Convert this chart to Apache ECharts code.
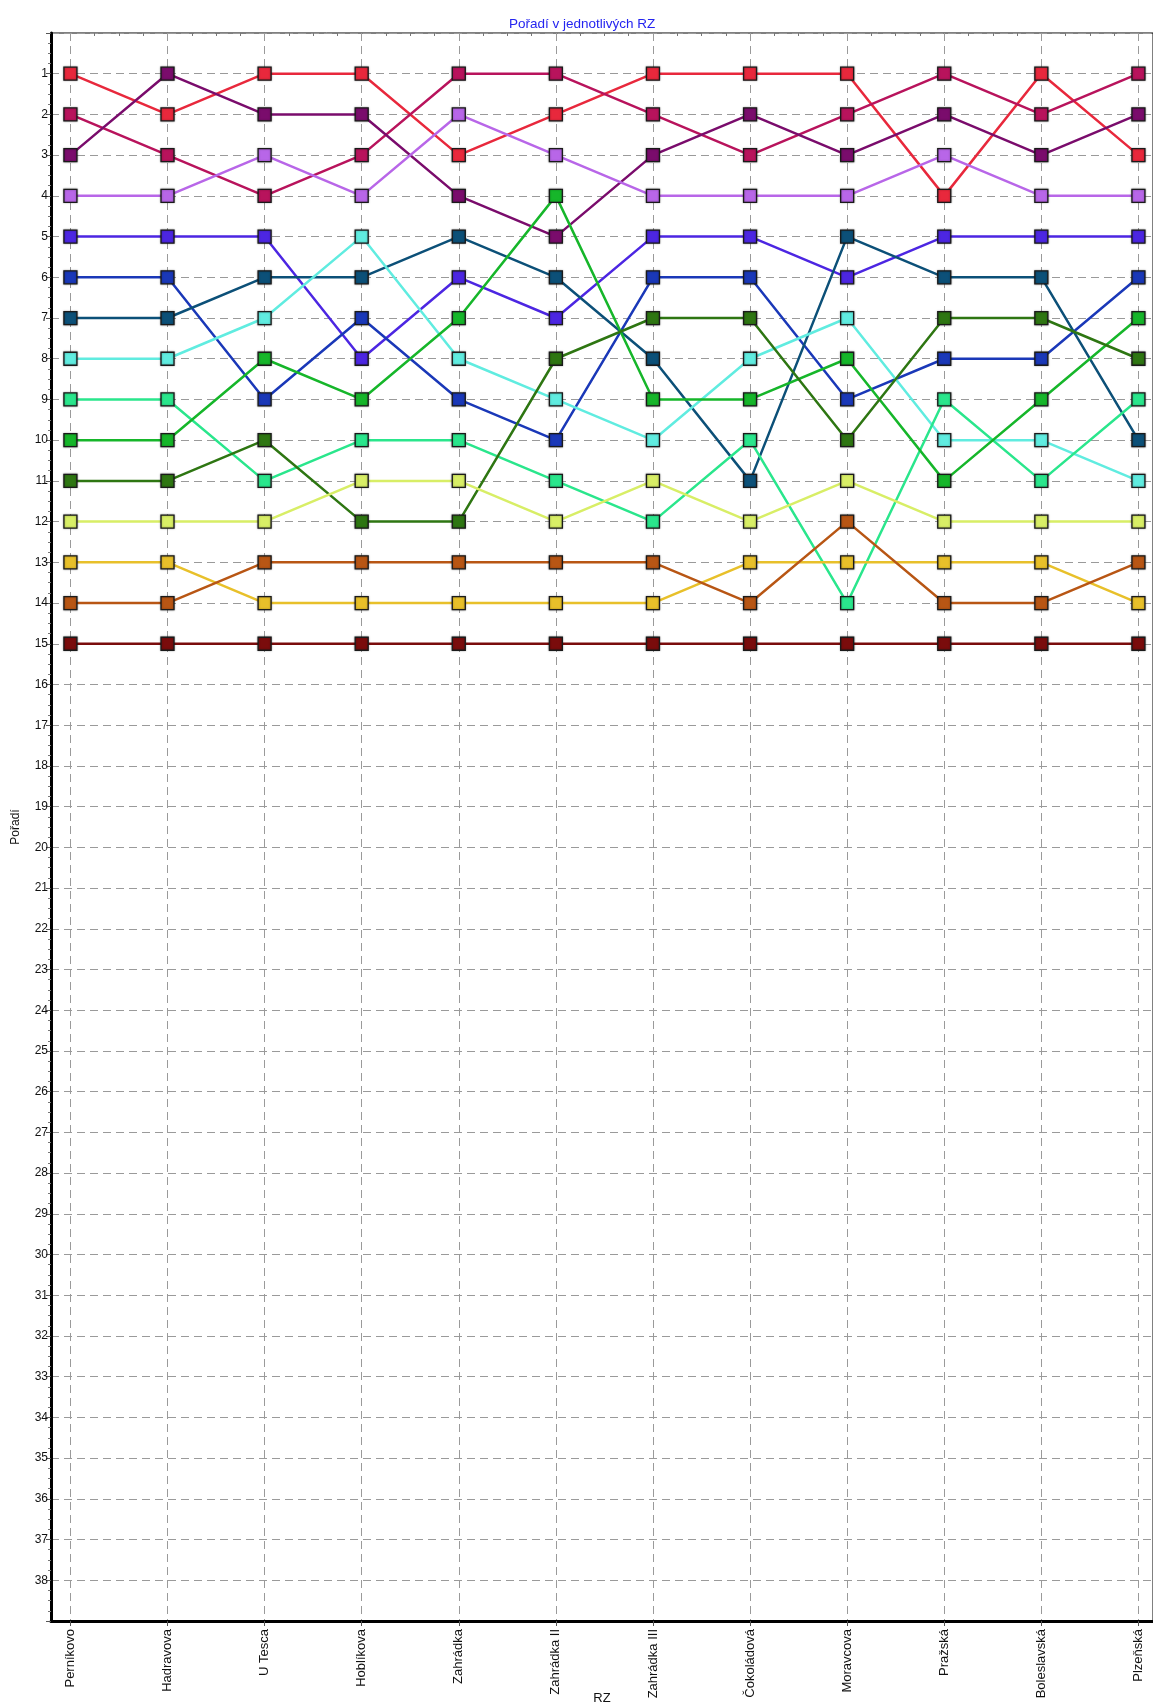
<!DOCTYPE html>
<html>
<head>
<meta charset="utf-8">
<title>Pořadí v jednotlivých RZ</title>
<script src="https://cdn.jsdelivr.net/npm/echarts@6/dist/echarts.min.js"></script>
<style>
    html, body { margin: 0; padding: 0; background: #fff; }
    #chart { width: 1153px; height: 1704px; }
</style>
</head>
<body>
<div id="chart"></div>
<script>
    'use strict';

    // stages (x axis)
    var stages = ['Perníkovo', 'Hadravova', 'U Tesca', 'Hoblíkova', 'Zahrádka', 'Zahrádka II',
        'Zahrádka III', 'Čokoládová', 'Moravcova', 'Pražská', 'Boleslavská', 'Plzeňská'];

    // ranking of each crew per stage
    var rankRed       = [1, 2, 1, 1, 3, 2, 1, 1, 1, 4, 1, 3];
    var rankCrimson   = [2, 3, 4, 3, 1, 1, 2, 3, 2, 1, 2, 1];
    var rankPurple    = [3, 1, 2, 2, 4, 5, 3, 2, 3, 2, 3, 2];
    var rankLavender  = [4, 4, 3, 4, 2, 3, 4, 4, 4, 3, 4, 4];
    var rankViolet    = [5, 5, 5, 8, 6, 7, 5, 5, 6, 5, 5, 5];
    var rankBlue      = [6, 6, 9, 7, 9, 10, 6, 6, 9, 8, 8, 6];
    var rankTeal      = [7, 7, 6, 6, 5, 6, 8, 11, 5, 6, 6, 10];
    var rankCyan      = [8, 8, 7, 5, 8, 9, 10, 8, 7, 10, 10, 11];
    var rankAqua      = [9, 9, 11, 10, 10, 11, 12, 10, 14, 9, 11, 9];
    var rankGreen     = [10, 10, 8, 9, 7, 4, 9, 9, 8, 11, 9, 7];
    var rankDarkGreen = [11, 11, 10, 12, 12, 8, 7, 7, 10, 7, 7, 8];
    var rankLime      = [12, 12, 12, 11, 11, 12, 11, 12, 11, 12, 12, 12];
    var rankGold      = [13, 13, 14, 14, 14, 14, 14, 13, 13, 13, 13, 14];
    var rankOrange    = [14, 14, 13, 13, 13, 13, 13, 14, 12, 14, 14, 13];
    var rankDarkRed   = [15, 15, 15, 15, 15, 15, 15, 15, 15, 15, 15, 15];

    var crews = [
        { color: '#e8283c', ranks: rankRed },
        { color: '#b8135c', ranks: rankCrimson },
        { color: '#7a0c6c', ranks: rankPurple },
        { color: '#b866e8', ranks: rankLavender },
        { color: '#4c26e2', ranks: rankViolet },
        { color: '#1a38b8', ranks: rankBlue },
        { color: '#0c5078', ranks: rankTeal },
        { color: '#60ece0', ranks: rankCyan },
        { color: '#2ae68c', ranks: rankAqua },
        { color: '#16b62a', ranks: rankGreen },
        { color: '#2e7612', ranks: rankDarkGreen },
        { color: '#d8ee66', ranks: rankLime },
        { color: '#e8c02a', ranks: rankGold },
        { color: '#b85614', ranks: rankOrange },
        { color: '#7a0c0c', ranks: rankDarkRed }
    ];

    var FONT = '"Liberation Sans", Arial, sans-serif';
    var gridLine = { show: true, lineStyle: { color: '#9a9a9a', width: 1, type: [8, 5] } };

    var stageTicks = stages.map(function(s, i) { return i; });
    var minorTicks = [];
    for (var i = 0; i < stages.length - 1; i++) {
        minorTicks.push(i + 0.25, i + 0.5, i + 0.75);
    }

    var series = crews.map(function(c, idx) {
        return {
            name: 'Posádka ' + (idx + 1),
            type: 'line',
            data: c.ranks.map(function(r, i) { return [i, r]; }),
            symbol: 'rect',
            symbolSize: 13,
            animation: false,
            lineStyle: { color: c.color, width: 2.5 },
            itemStyle: {
                color: c.color,
                borderColor: '#1a1a1a',
                borderWidth: 1.3,
                shadowColor: 'rgba(0,0,0,0.35)',
                shadowBlur: 2
            },
            emphasis: { disabled: true }
        };
    });

    var chart = echarts.init(document.getElementById('chart'));
    chart.setOption({
        backgroundColor: '#fff',
        animation: false,
        title: {
            text: 'Pořadí v jednotlivých RZ',
            left: 504,
            top: 12,
            textStyle: { color: '#2424f0', fontSize: 13.5, fontWeight: 'normal', fontFamily: FONT }
        },
        grid: {
            left: 51, right: 0, top: 33, bottom: 83,
            outerBoundsMode: 'none',
            containLabel: false,
            show: true, borderColor: '#000', borderWidth: 1
        },
        xAxis: [{
            type: 'value',
            min: -0.2,
            max: 11.15,
            name: 'RZ',
            nameLocation: 'middle',
            nameGap: 71,
            nameMoveOverlap: false,
            nameTextStyle: { color: '#111', fontSize: 13, fontFamily: FONT },
            axisLine: { show: true, onZero: false, lineStyle: { color: '#000', width: 3 } },
            axisTick: { show: true, length: 5, customValues: stageTicks, lineStyle: { color: '#555' } },
            axisLabel: {
                customValues: stageTicks,
                rotate: 90,
                margin: 8,
                color: '#111',
                fontSize: 13,
                fontFamily: FONT,
                formatter: function(v) { return stages[Math.round(v)]; }
            },
            splitLine: gridLine
        }, {
            // minor ticks between stages
            type: 'value',
            min: -0.2,
            max: 11.15,
            position: 'bottom',
            axisLine: { show: false },
            axisTick: { show: true, length: 3, customValues: minorTicks, lineStyle: { color: '#777' } },
            axisLabel: { show: false },
            splitLine: { show: false }
        }],
        yAxis: {
            type: 'value',
            inverse: true,
            min: 0,
            max: 39,
            interval: 1,
            name: 'Pořadí',
            nameLocation: 'middle',
            nameGap: 29,
            nameMoveOverlap: false,
            nameTextStyle: { color: '#111', fontSize: 12, fontFamily: FONT },
            axisLine: { show: true, onZero: false, lineStyle: { color: '#000', width: 3 } },
            axisTick: { show: true, length: 5, lineStyle: { color: '#555' } },
            minorTick: { show: true, splitNumber: 4, length: 3, lineStyle: { color: '#777' } },
            axisLabel: {
                margin: 3,
                color: '#111',
                fontSize: 12,
                fontFamily: FONT,
                formatter: function(v) { return (v >= 1 && v <= 38) ? String(v) : ''; }
            },
            splitLine: gridLine
        },
        series: series
    });
</script>
</body>
</html>
